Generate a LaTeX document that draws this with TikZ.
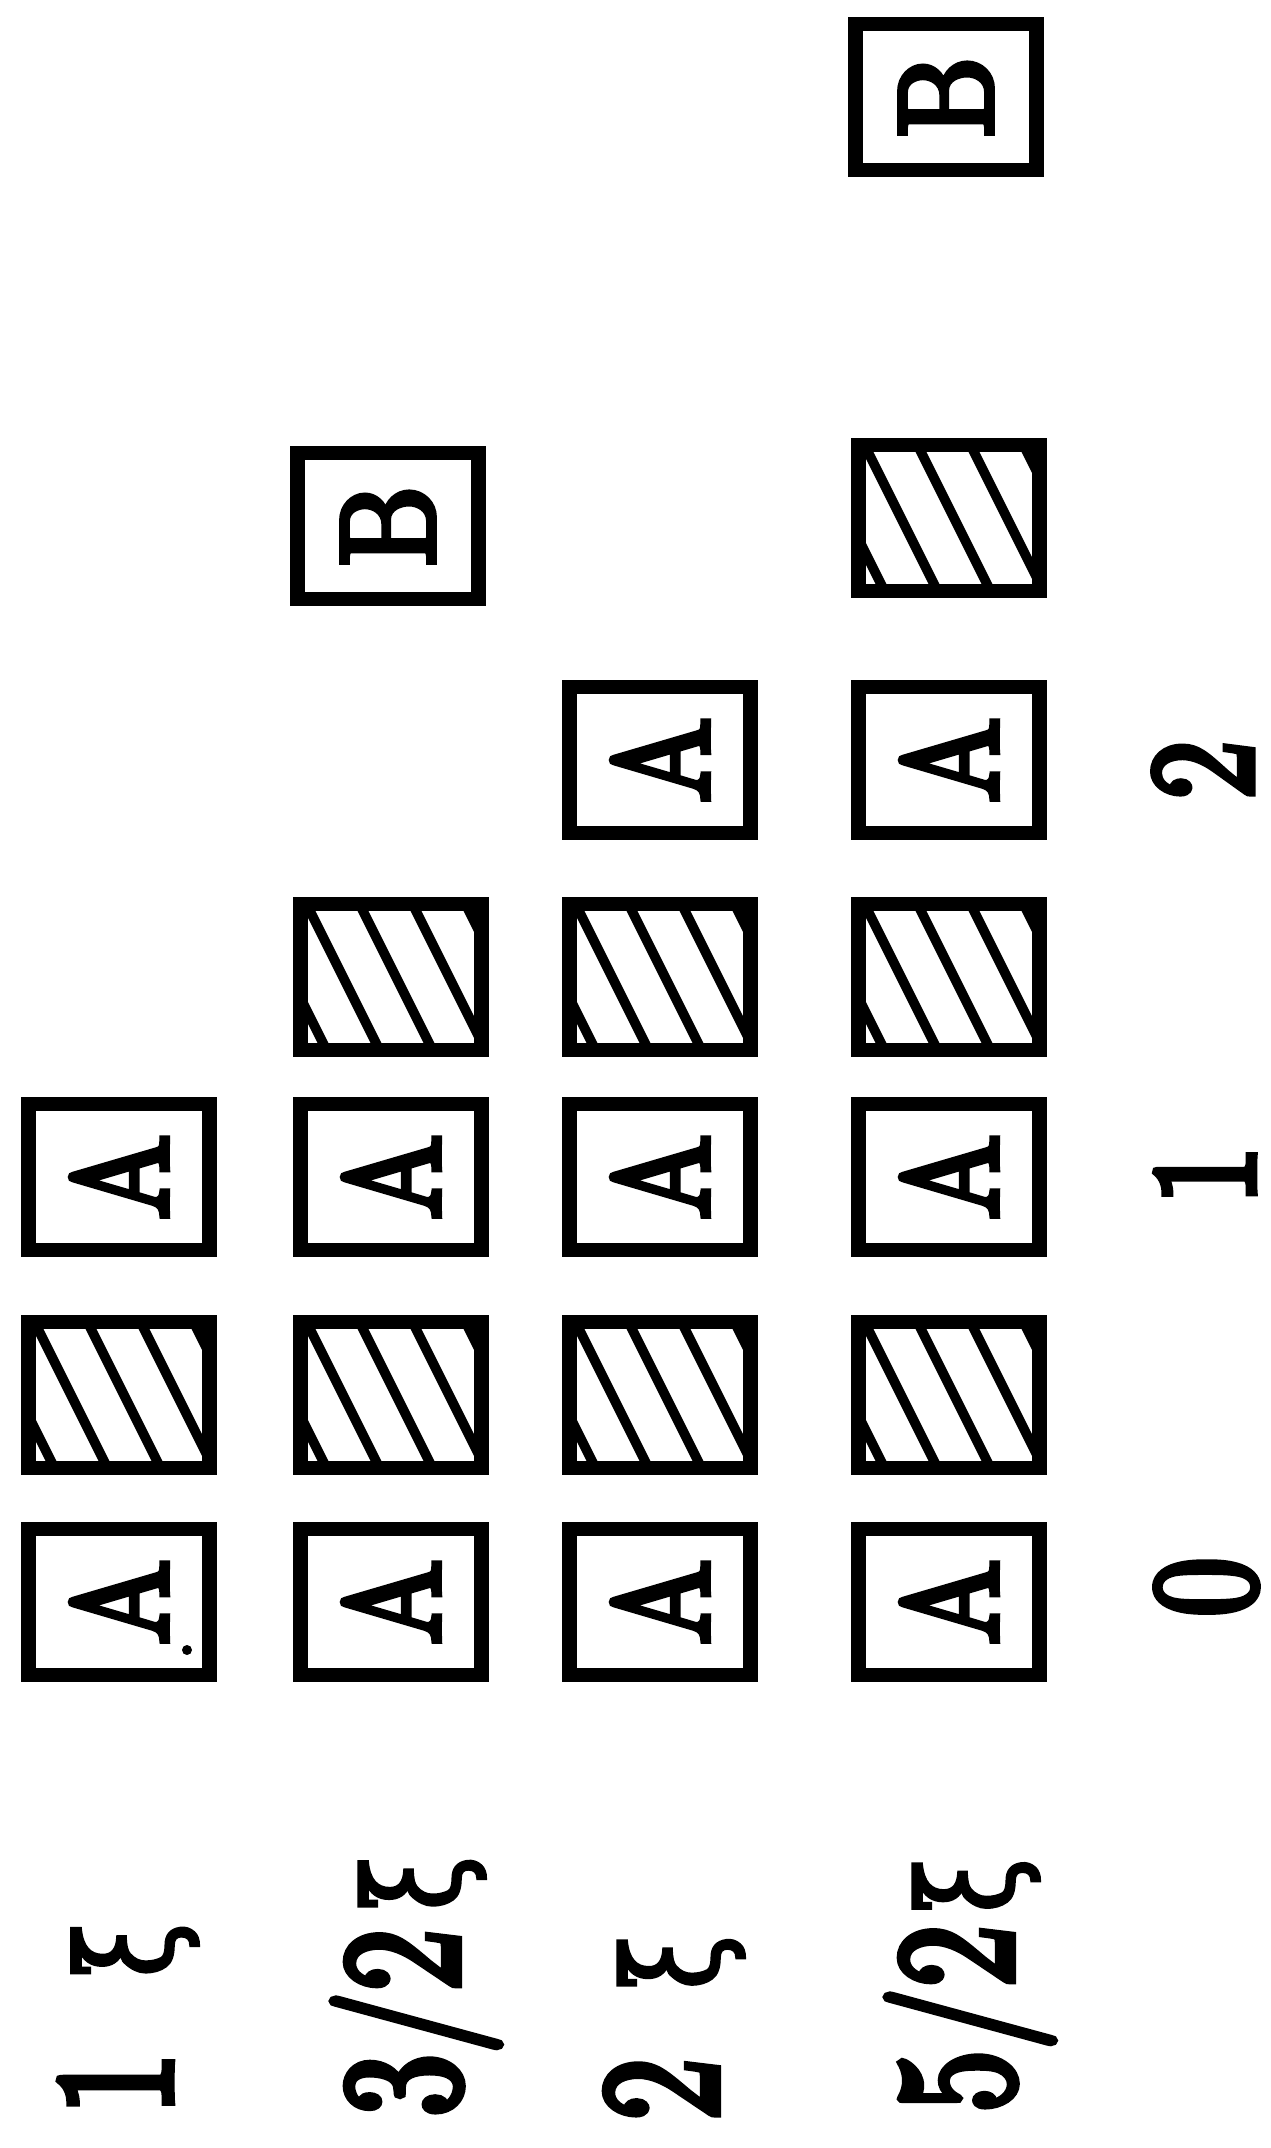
\documentclass[tikz,border=0pt]{standalone}
\usepackage{fontspec}
\usepackage{graphicx}
\newfontfamily\grk{DejaVu Serif}[FakeBold=3]
\newfontfamily\heavy{lmroman10-regular.otf}[FakeBold=5]
\newcommand{\boxA}{\rotatebox{90}{\scalebox{0.85}[1]{A}}}
\newcommand{\boxB}{\rotatebox{90}{\scalebox{0.85}[1]{B}}}
\newcommand{\xig}{{\grk\fontsize{74}{74}\selectfont ξ}}
\begin{document}
\begin{tikzpicture}[x=0.2mm,y=-0.2mm,
  box/.style={draw, line width=8pt, minimum width=36.2mm, minimum height=29.2mm, inner sep=0pt,
    font=\heavy\fontsize{76}{76}\selectfont},
  hatchbox/.style={box, path picture={
      \foreach \s in {-4,...,4}{
        \draw[line width=5.5pt] ([xshift=\s*10.6mm-8.5mm+1mm, yshift=17mm]path picture bounding box.center) -- ++(17mm,-34mm);}}},
  rowlab/.style={rotate=90, anchor=base, inner sep=0pt, font=\heavy\fontsize{84}{84}\selectfont},
  collab/.style={rotate=90, anchor=base west, inner sep=0pt, font=\heavy\fontsize{95}{95}\selectfont}
]
\useasboundingbox (0,0) rectangle (1270,2148);
% column 1 (1 xi)
\node[box] (a10) at (119,1602) {\boxA};
\node[hatchbox] (h10) at (119,1395) {};
\node[box] (a11) at (119,1177) {\boxA};
\fill (187,1650) circle (5);
% column 2 (3/2 xi)
\node[box] (a20) at (391,1602) {\boxA};
\node[hatchbox] (h20) at (391,1395) {};
\node[box] (a21) at (391,1177) {\boxA};
\node[hatchbox] (h21) at (391,977) {};
\node[box] (b2) at (388,526) {\boxB};
% column 3 (2 xi)
\node[box] (a30) at (660,1602) {\boxA};
\node[hatchbox] (h30) at (660,1395) {};
\node[box] (a31) at (660,1177) {\boxA};
\node[hatchbox] (h31) at (660,977) {};
\node[box] (a32) at (660,760) {\boxA};
% column 4 (5/2 xi)
\node[box] (a40) at (949,1602) {\boxA};
\node[hatchbox] (h40) at (949,1395) {};
\node[box] (a41) at (949,1177) {\boxA};
\node[hatchbox] (h41) at (949,977) {};
\node[box] (a42) at (949,760) {\boxA};
\node[hatchbox] (h42) at (949,518) {};
\node[box] (b4) at (946,97) {\boxB};
% row labels
\node[rowlab] (r0) at (1254,1587) {\scalebox{0.8}[1]{0}};
\node[rowlab] (r1) at (1254,1175) {\scalebox{0.8}[1]{1}};
\node[rowlab] (r2) at (1252,770) {\scalebox{0.8}[1]{2}};
% column labels
\node[collab] (c1) at (171,2115) {\scalebox{0.75}[1]{1\hspace{0.6em}\xig}};
\node[collab] (c2) at (458,2117) {\scalebox{0.75}[1]{3/2\hspace{0.15em}\xig}};
\node[collab] (c3) at (717,2121) {\scalebox{0.75}[1]{2\hspace{0.55em}\xig}};
\node[collab] (c4) at (1012,2113) {\scalebox{0.75}[1]{5/2\hspace{0.1em}\xig}};
\end{tikzpicture}
\end{document}
